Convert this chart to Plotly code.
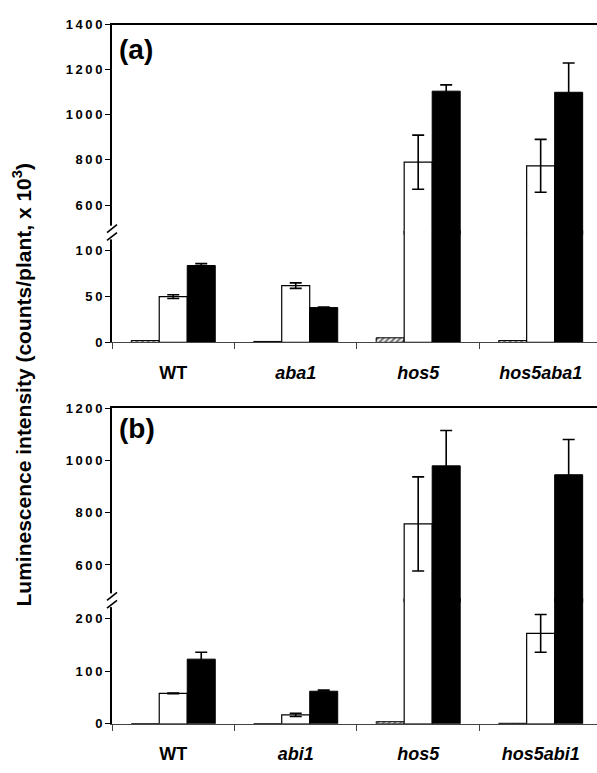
import plotly.graph_objects as go

# ---------------- data ----------------
categories_a = ["WT", "aba1", "hos5", "hos5aba1"]
ticktext_a = ["WT", "<i>aba1</i>", "<i>hos5</i>", "<i>hos5aba1</i>"]
hatched_a = [2, 1, 5, 2]
white_a = [50, 62, 790, 774]
white_a_err = [2, 3, 120, 117]
black_a = [84, 38, 1105, 1100]
black_a_err = [2, 0.5, 28, 130]

categories_b = ["WT", "abi1", "hos5", "hos5abi1"]
ticktext_b = ["WT", "<i>abi1</i>", "<i>hos5</i>", "<i>hos5abi1</i>"]
hatched_b = [0, 0, 4, 1]
white_b = [58, 17, 757, 172]
white_b_err = [0.5, 3, 180, 36]
black_b = [123, 62, 979, 945]
black_b_err = [13, 2, 135, 135]

yticks_a_upper = [600, 800, 1000, 1200, 1400]
yticks_a_lower = [0, 50, 100]
yticks_b_upper = [600, 800, 1000, 1200]
yticks_b_lower = [0, 100, 200]

ytitle = "Luminescence intensity (counts/plant, x 10<sup>3</sup>)"

# ---------------- geometry helpers ----------------
W, H = 597, 773
ML = 112
PW = W - ML


def px_x(p):
    return (p - ML) / PW


def px_y(p):
    return (H - p) / H


FONT = "Liberation Sans"
tickfont = dict(family=FONT, size=13, color="black", weight="bold")
catfont = dict(family=FONT, size=18, color="black", weight="bold")


def spaced(v):
    return "\u2009".join(str(v))


fig = go.Figure()


def add_panel(cats, hatched, white, werr, black, berr, xa_up, ya_up, xa_lo, ya_lo):
    for xa, ya in ((xa_up, ya_up), (xa_lo, ya_lo)):
        fig.add_trace(go.Bar(
            x=cats, y=hatched, xaxis=xa, yaxis=ya,
            marker=dict(color="white", line=dict(color="black", width=1),
                        pattern=dict(shape="/", fgcolor="black", bgcolor="white",
                                     size=4, solidity=0.6)),
            showlegend=False, hoverinfo="skip"))
        fig.add_trace(go.Bar(
            x=cats, y=white, xaxis=xa, yaxis=ya,
            marker=dict(color="white", line=dict(color="black", width=1.2)),
            error_y=dict(type="data", array=werr, visible=True, color="black",
                         thickness=1.6, width=6),
            showlegend=False, hoverinfo="skip"))
        fig.add_trace(go.Bar(
            x=cats, y=black, xaxis=xa, yaxis=ya,
            marker=dict(color="black", line=dict(color="black", width=1)),
            error_y=dict(type="data", array=berr, visible=True, color="black",
                         thickness=1.6, width=6),
            showlegend=False, hoverinfo="skip"))


add_panel(categories_a, hatched_a, white_a, white_a_err, black_a, black_a_err,
          "x", "y", "x2", "y2")
add_panel(categories_b, hatched_b, white_b, white_b_err, black_b, black_b_err,
          "x3", "y3", "x4", "y4")

xr = [-0.5, 3.46]

# domains (pixel based); small overlap at the break so bars stay continuous
a_top, a_brk, a_bot = 18, 230, 342
b_top, b_brk, b_bot = 409, 605, 731
OV = 2.0

a_up_rng = [478 - OV / 0.23, 1400]
a_lo_rng = [0, 120 + OV / 0.933]
b_up_rng = [465 - OV / 0.2667, 1200]
b_lo_rng = [0, 235 + OV / 0.536]

common_y = dict(showline=True, linecolor="black", linewidth=2, ticks="outside",
                ticklen=5, tickwidth=1.2, tickcolor="black", tickfont=tickfont,
                showgrid=False, zeroline=False, tickmode="array")

common_xlo = dict(domain=[0, 1], range=xr, showline=True, linecolor="#444",
                  linewidth=1, ticks="outside", ticklen=6, tickcolor="#444",
                  tickson="boundaries", showgrid=False, tickmode="array",
                  tickfont=catfont, ticklabelstandoff=14)

layout = dict(
    width=W, height=H,
    margin=dict(l=ML, r=0, t=0, b=0),
    paper_bgcolor="white", plot_bgcolor="rgba(0,0,0,0)",
    barmode="group", bargap=0.314, bargroupgap=0,
    showlegend=False,
    xaxis=dict(domain=[0, 1], anchor="y", range=xr, side="top", showline=True,
               linecolor="black", linewidth=2, showticklabels=False, ticks="",
               showgrid=False, categoryorder="array", categoryarray=categories_a),
    xaxis2=dict(anchor="y2", tickvals=categories_a, ticktext=ticktext_a,
                categoryorder="array", categoryarray=categories_a, **common_xlo),
    xaxis3=dict(domain=[0, 1], anchor="y3", range=xr, side="top", showline=True,
                linecolor="black", linewidth=2, showticklabels=False, ticks="",
                showgrid=False, categoryorder="array", categoryarray=categories_b),
    xaxis4=dict(anchor="y4", tickvals=categories_b, ticktext=ticktext_b,
                categoryorder="array", categoryarray=categories_b, **common_xlo),
    yaxis=dict(domain=[px_y(a_brk + OV), px_y(a_top)], anchor="x", range=a_up_rng,
               tickvals=yticks_a_upper, ticktext=[spaced(v) for v in yticks_a_upper],
               **common_y),
    yaxis2=dict(domain=[px_y(a_bot), px_y(a_brk - OV)], anchor="x2", range=a_lo_rng,
                tickvals=yticks_a_lower, ticktext=[spaced(v) for v in yticks_a_lower],
                **common_y),
    yaxis3=dict(domain=[px_y(b_brk + OV), px_y(b_top)], anchor="x3", range=b_up_rng,
                tickvals=yticks_b_upper, ticktext=[spaced(v) for v in yticks_b_upper],
                **common_y),
    yaxis4=dict(domain=[px_y(b_bot), px_y(b_brk - OV)], anchor="x4", range=b_lo_rng,
                tickvals=yticks_b_lower, ticktext=[spaced(v) for v in yticks_b_lower],
                **common_y),
)
fig.update_layout(**layout)

# axis break marks
shapes = []
for brk in (a_brk, b_brk):
    shapes.append(dict(type="rect", xref="paper", yref="paper",
                       x0=px_x(108), x1=px_x(116), y0=px_y(brk + 7), y1=px_y(brk - 7),
                       fillcolor="white", line=dict(width=0), layer="above"))
    for off in (-4, 4):
        shapes.append(dict(type="line", xref="paper", yref="paper",
                           x0=px_x(107), y0=px_y(brk + off + 4),
                           x1=px_x(117), y1=px_y(brk + off - 4),
                           line=dict(color="black", width=1.6), layer="above"))
fig.update_layout(shapes=shapes)

annotations = [
    dict(text=ytitle, xref="paper", yref="paper", x=px_x(22), y=px_y(386),
         textangle=-90, showarrow=False, xanchor="center", yanchor="middle",
         font=dict(family=FONT, size=21, color="black", weight="bold")),
    dict(text="(a)", xref="paper", yref="paper", x=px_x(117), y=px_y(43),
         showarrow=False, xanchor="left", yanchor="middle",
         font=dict(family=FONT, size=28, color="black", weight="bold")),
    dict(text="(b)", xref="paper", yref="paper", x=px_x(117), y=px_y(430),
         showarrow=False, xanchor="left", yanchor="middle",
         font=dict(family=FONT, size=28, color="black", weight="bold")),
]
fig.update_layout(annotations=annotations)

fig.write_html("out.html")
